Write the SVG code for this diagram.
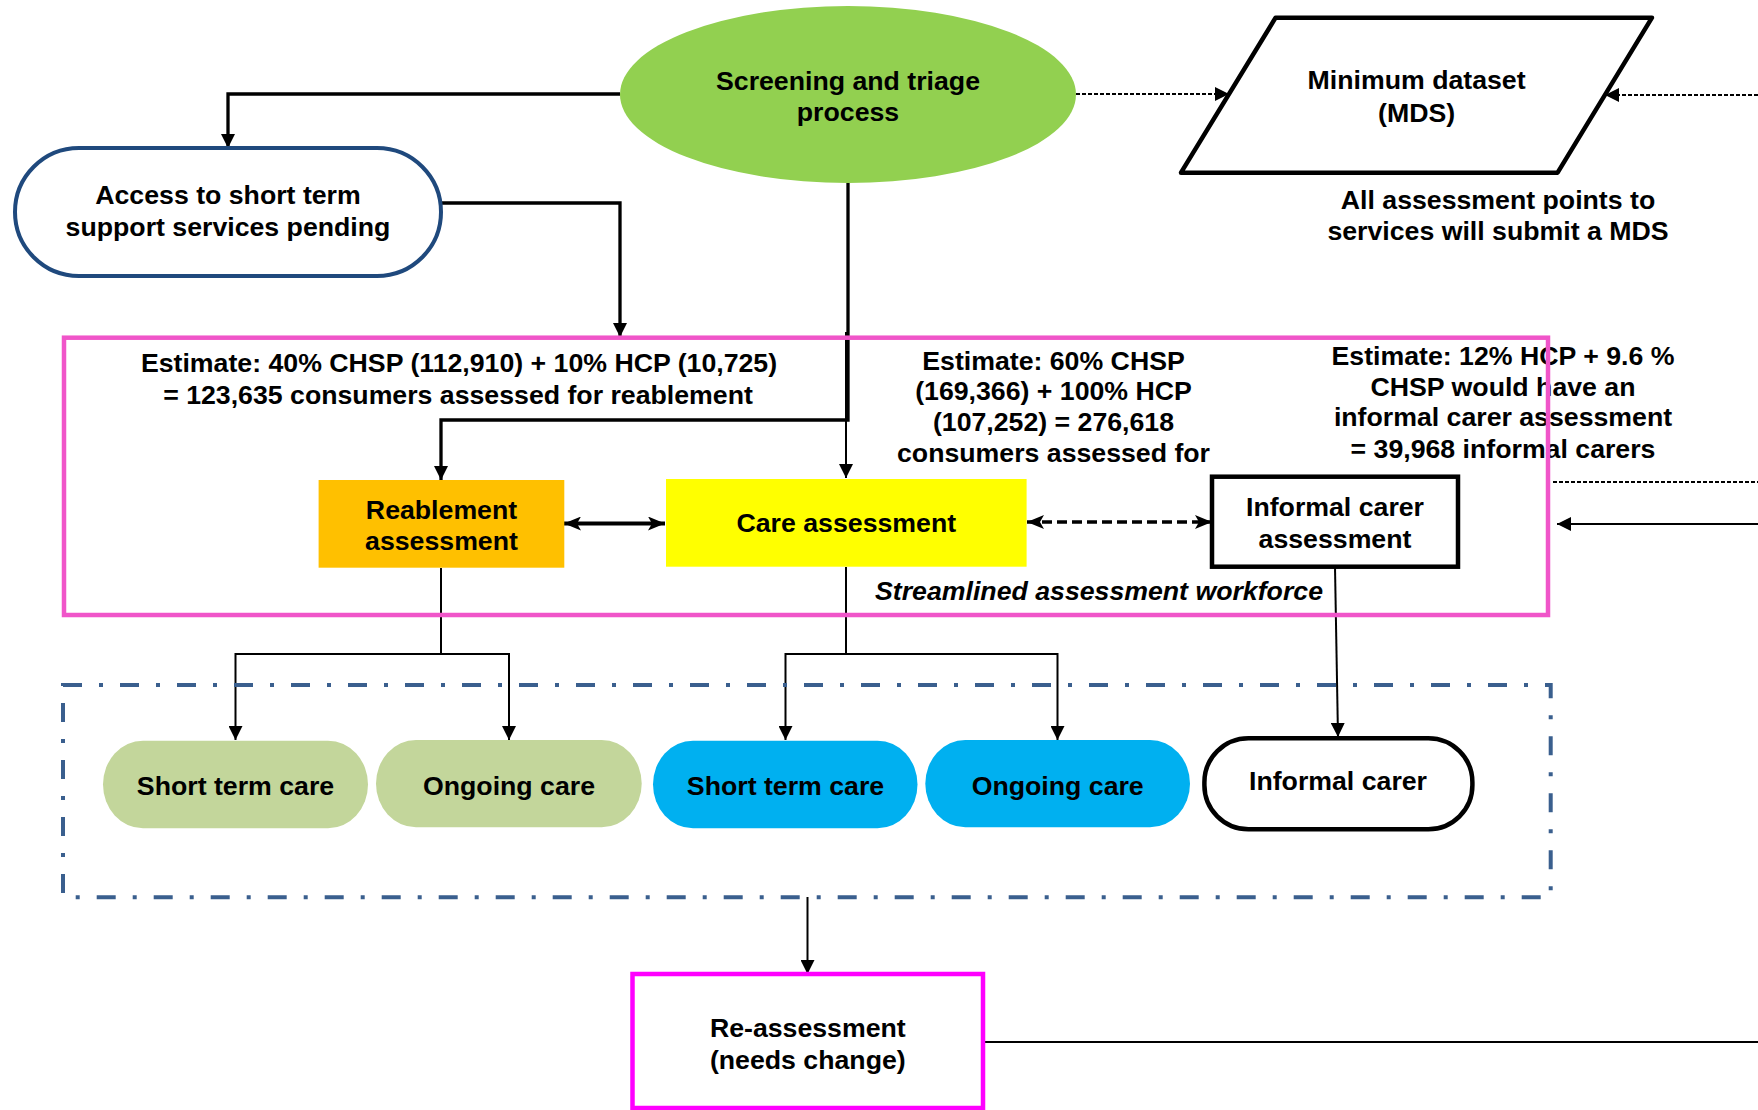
<svg xmlns="http://www.w3.org/2000/svg" width="1758" height="1110" viewBox="0 0 1758 1110">
  <style>
    .t { font-family: "Liberation Sans", Arial, sans-serif; font-weight: bold; font-size: 26.7px; fill: #000; text-anchor: middle; }
    .it { font-style: italic; }
    .ln { fill: none; stroke: #000; }
    .thick { stroke-width: 3.3; }
    .thin { stroke-width: 2; }
    .dot { stroke-dasharray: 4 2; }
  </style>
  <defs>
    <marker id="arr" viewBox="0 0 14 14" refX="14" refY="7" markerWidth="14" markerHeight="14" markerUnits="userSpaceOnUse" orient="auto-start-reverse">
      <path d="M0,0 L14,7 L0,14 z" fill="#000"/>
    </marker>
    <marker id="arrBig" viewBox="0 0 17 14" refX="17" refY="7" markerWidth="17" markerHeight="14" markerUnits="userSpaceOnUse" orient="auto-start-reverse">
      <path d="M0,0 L17,7 L0,14 L4,7 z" fill="#000"/>
    </marker>
  </defs>

  <!-- connectors -->
  <g id="connectors">
    <path class="ln thick" d="M620,94 H228 V148" marker-end="url(#arr)"/>
    <path class="ln thick" d="M441,203 H620 V337" marker-end="url(#arr)"/>
    <path class="ln thick" d="M848,183 V420 H441 V480" marker-end="url(#arr)"/>
    <path class="ln thin" d="M846,332 V478" marker-end="url(#arr)"/>
    <path class="ln" stroke-width="4" d="M564,523.5 H665" marker-start="url(#arrBig)" marker-end="url(#arrBig)"/>
    <path class="ln" stroke-width="3.5" stroke-dasharray="10 5" d="M1027,522 H1212" marker-start="url(#arrBig)" marker-end="url(#arrBig)"/>
    <path class="ln thin dot" d="M1553,482 H1758"/>
    <path class="ln thin" d="M1758,524 H1557" marker-end="url(#arr)"/>
    <path class="ln thin dot" d="M1076,94 H1229" marker-end="url(#arr)"/>
    <path class="ln thin dot" d="M1758,95 H1605" marker-end="url(#arr)"/>
    <path class="ln thin" d="M441,568 V654 H235.5 V740" marker-end="url(#arr)"/>
    <path class="ln thin" d="M441,654 H509 V740" marker-end="url(#arr)"/>
    <path class="ln thin" d="M846,567 V654 H785.5 V740" marker-end="url(#arr)"/>
    <path class="ln thin" d="M846,654 H1057.5 V740" marker-end="url(#arr)"/>
    <path class="ln thin" d="M1335,567 L1338,737" marker-end="url(#arr)"/>
    <path class="ln thin" d="M807.5,897 V974" marker-end="url(#arr)"/>
    <path class="ln thin" d="M983,1042 H1758"/>
  </g>

  <!-- screening -->
  <g id="screening">
    <ellipse cx="848" cy="94.5" rx="228" ry="88.5" fill="#92D050"/>
    <text class="t" x="848" y="90">Screening and triage</text>
    <text class="t" x="848" y="121">process</text>
  </g>

  <g id="access">
    <rect x="15" y="148" width="426" height="128" rx="64" ry="64" fill="#fff" stroke="#1F497D" stroke-width="4"/>
    <text class="t" x="228" y="204">Access to short term</text>
    <text class="t" x="228" y="235.5">support services pending</text>
  </g>

  <g id="mds">
    <polygon points="1275.6,17.7 1652,17.7 1557.6,172.7 1181,172.7" fill="#fff" stroke="#000" stroke-width="4.5" stroke-linejoin="round"/>
    <text class="t" x="1416.6" y="89">Minimum dataset</text>
    <text class="t" x="1416.6" y="122">(MDS)</text>
  </g>

  <g id="mds-note">
    <text class="t" x="1498" y="209">All assessment points to</text>
    <text class="t" x="1498" y="240">services will submit a MDS</text>
  </g>

  <g id="estimate-reablement">
    <text class="t" x="459" y="372">Estimate: 40% CHSP (112,910) + 10% HCP (10,725)</text>
    <text class="t" x="458" y="404">= 123,635 consumers assessed for reablement</text>
  </g>

  <g id="estimate-care">
    <text class="t" x="1053.5" y="370">Estimate: 60% CHSP</text>
    <text class="t" x="1053.5" y="400">(169,366) + 100% HCP</text>
    <text class="t" x="1053.5" y="431">(107,252) = 276,618</text>
    <text class="t" x="1053.5" y="462">consumers assessed for</text>
  </g>

  <g id="estimate-carer">
    <text class="t" x="1503" y="365">Estimate: 12% HCP + 9.6 %</text>
    <text class="t" x="1503" y="396">CHSP would have an</text>
    <text class="t" x="1503" y="426">informal carer assessment</text>
    <text class="t" x="1503" y="458">= 39,968 informal carers</text>
  </g>

  <g id="reablement-assessment">
    <rect x="318.6" y="480" width="245.7" height="87.7" fill="#FFC000"/>
    <text class="t" x="441.5" y="519">Reablement</text>
    <text class="t" x="441.5" y="550">assessment</text>
  </g>

  <g id="care-assessment">
    <rect x="666" y="479" width="360.6" height="87.7" fill="#FFFF00"/>
    <text class="t" x="846.3" y="532">Care assessment</text>
  </g>

  <g id="informal-carer-assessment">
    <rect x="1212" y="476.7" width="246" height="90" fill="#fff" stroke="#000" stroke-width="4.5"/>
    <text class="t" x="1335" y="516">Informal carer</text>
    <text class="t" x="1335" y="548">assessment</text>
  </g>

  <g id="workforce-label">
    <text class="t it" x="1099" y="600">Streamlined assessment workforce</text>
  </g>

  <!-- assessment workforce boundary -->
  <g id="assessment-workforce">
    <rect x="64" y="337.7" width="1484" height="277.3" fill="none" stroke="#F055C9" stroke-width="4.5"/>
  </g>

  <!-- care services boundary -->
  <g id="care-services">
    <rect x="63" y="685" width="1487.7" height="212.3" fill="none" stroke="#3A5F8E" stroke-width="4" stroke-dasharray="19 17 4 17"/>
  </g>

  <g id="short-term-reablement">
    <rect x="103" y="740.7" width="265" height="87.6" rx="40" ry="44" fill="#C3D69B"/>
    <text class="t" x="235.5" y="795">Short term care</text>
  </g>

  <g id="ongoing-reablement">
    <rect x="376" y="740" width="265.7" height="87.3" rx="40" ry="44" fill="#C3D69B"/>
    <text class="t" x="509" y="795">Ongoing care</text>
  </g>

  <g id="short-term-care">
    <rect x="653" y="740.7" width="264.5" height="87.6" rx="40" ry="44" fill="#00B0F0"/>
    <text class="t" x="785.5" y="795">Short term care</text>
  </g>

  <g id="ongoing-care">
    <rect x="925.3" y="740" width="264.7" height="87.3" rx="40" ry="44" fill="#00B0F0"/>
    <text class="t" x="1057.7" y="795">Ongoing care</text>
  </g>

  <g id="informal-carer">
    <rect x="1204.4" y="738.3" width="268" height="91" rx="44" ry="44" fill="#fff" stroke="#000" stroke-width="4.5"/>
    <text class="t" x="1338" y="790">Informal carer</text>
  </g>

  <g id="reassessment">
    <rect x="632.5" y="974" width="350.5" height="134" fill="#fff" stroke="#FF00FF" stroke-width="4.5"/>
    <text class="t" x="807.8" y="1037">Re-assessment</text>
    <text class="t" x="807.8" y="1069">(needs change)</text>
  </g>
</svg>
